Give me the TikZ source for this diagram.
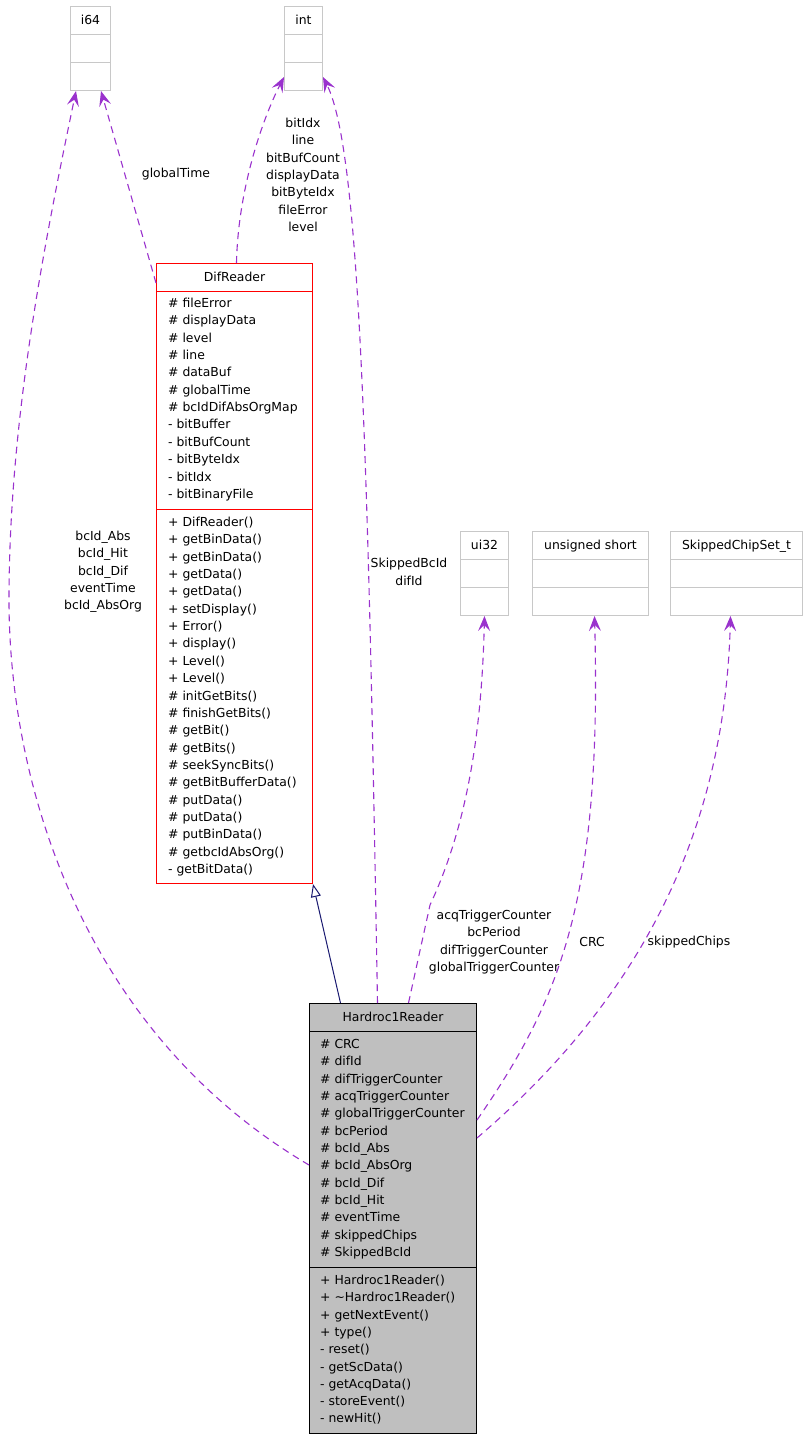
\documentclass[tikz,border=0pt]{standalone}
\usepackage{fontspec}
\setmainfont{DejaVu Sans}
\usepackage{tikz}
\usetikzlibrary{arrows.meta,calc}
\definecolor{usesedge}{HTML}{9A32CD}
\definecolor{inheritedge}{HTML}{191970}
\definecolor{typeframe}{HTML}{C8C8C8}
\definecolor{classfill}{HTML}{BFBFBF}

\tikzset{
  typebox/.style={draw=typeframe, line width=1pt, inner sep=0pt, anchor=north west},
  typeline/.style={draw=typeframe, line width=1pt},
  basebox/.style={draw=red, line width=1pt, inner sep=0pt, anchor=north west},
  mainbox/.style={draw=black, fill=classfill, line width=1pt, inner sep=0pt, anchor=north west},
  title/.style={anchor=base, inner sep=0pt},
  member/.style={anchor=base west, inner sep=0pt},
  uses/.style={draw=usesedge, line width=1.1pt, dash pattern=on 7pt off 5pt,
    -{Stealth[length=15pt,width=12pt,inset=6pt,fill=usesedge]}},
  inherits/.style={draw=inheritedge, line width=1pt,
    -{Triangle[open,length=13pt,width=10pt,fill=white]}},
  edgelabel/.style={align=center, inner sep=0pt}
}

\begin{document}
\begin{tikzpicture}[x=1pt,y=-1pt,font=\fontsize{12.4}{17.35}\selectfont]
\useasboundingbox (0,0) rectangle (807,1440);

% plain types
\node[typebox, minimum width=40, minimum height=84] (i64) at (70,6) {};
\node[typebox, minimum width=38, minimum height=84] (int) at (284,6) {};
\node[typebox, minimum width=48, minimum height=84] (ui32) at (460,531) {};
\node[typebox, minimum width=116, minimum height=84] (ushort) at (532,531) {};
\node[typebox, minimum width=132, minimum height=84] (skipset) at (670,531) {};
\foreach \b in {i64,int,ui32,ushort,skipset} {
  \draw[typeline] ([yshift=-28pt]\b.north west) -- ([yshift=-28pt]\b.north east);
  \draw[typeline] ([yshift=-56pt]\b.north west) -- ([yshift=-56pt]\b.north east);
}
\node[title] (i64-t) at ([yshift=-18.5pt]i64.north) {i64};
\node[title] (int-t) at ([yshift=-18.5pt]int.north) {int};
\node[title] (ui32-t) at ([yshift=-18.5pt]ui32.north) {ui32};
\node[title] (ushort-t) at ([yshift=-18.5pt]ushort.north) {unsigned short};
\node[title] (skipset-t) at ([yshift=-18.5pt]skipset.north) {SkippedChipSet\_t};

% DifReader
\node[basebox, minimum width=156, minimum height=620] (difreader) at (156,263) {};
\draw[red, line width=1pt] ([yshift=-28pt]difreader.north west) -- ([yshift=-28pt]difreader.north east);
\draw[red, line width=1pt] ([yshift=-246pt]difreader.north west) -- ([yshift=-246pt]difreader.north east);
\node[title] (difreader-t) at ([yshift=-18pt]difreader.north) {DifReader};
\foreach \m [count=\i from 0] in {\# fileError,\# displayData,\# level,\# line,\# dataBuf,
  \# globalTime,\# bcIdDifAbsOrgMap,- bitBuffer,- bitBufCount,- bitByteIdx,- bitIdx,- bitBinaryFile}
  \node[member] (dr-a\i) at ($(difreader.north west)+(12,44.5+17.35*\i)$) {\m};
\foreach \m [count=\i from 0] in {+ DifReader(),+ getBinData(),+ getBinData(),+ getData(),+ getData(),
  + setDisplay(),+ Error(),+ display(),+ Level(),+ Level(),\# initGetBits(),\# finishGetBits(),
  \# getBit(),\# getBits(),\# seekSyncBits(),\# getBitBufferData(),\# putData(),\# putData(),
  \# putBinData(),\# getbcIdAbsOrg(),- getBitData()}
  \node[member] (dr-m\i) at ($(difreader.north west)+(12,263.5+17.35*\i)$) {\m};

% Hardroc1Reader
\node[mainbox, minimum width=167, minimum height=430] (hardroc) at (309,1003) {};
\draw[line width=1pt] ([yshift=-28pt]hardroc.north west) -- ([yshift=-28pt]hardroc.north east);
\draw[line width=1pt] ([yshift=-264pt]hardroc.north west) -- ([yshift=-264pt]hardroc.north east);
\node[title] (hardroc-t) at ([yshift=-18.5pt]hardroc.north) {Hardroc1Reader};
\foreach \m [count=\i from 0] in {\# CRC,\# difId,\# difTriggerCounter,\# acqTriggerCounter,
  \# globalTriggerCounter,\# bcPeriod,\# bcId\_Abs,\# bcId\_AbsOrg,\# bcId\_Dif,\# bcId\_Hit,
  \# eventTime,\# skippedChips,\# SkippedBcId}
  \node[member] (hr-a\i) at ($(hardroc.north west)+(11,45.5+17.33*\i)$) {\m};
\foreach \m [count=\i from 0] in {+ Hardroc1Reader(),+ \textasciitilde Hardroc1Reader(),
  + getNextEvent(),+ type(),- reset(),- getScData(),- getAcqData(),- storeEvent(),- newHit()}
  \node[member] (hr-m\i) at ($(hardroc.north west)+(11,281.5+17.3*\i)$) {\m};

% connectors
\draw[inherits] ([xshift=-52.5pt]hardroc.north) -- (difreader.south east);
\draw[uses] ([yshift=-162pt]hardroc.north west) .. controls (80,1030) and (9,780) .. (9,600)
  .. controls (9,420) and (45,240) .. ([xshift=6pt]i64.south west);
\draw[uses] ([yshift=-20pt]difreader.north west) -- ([xshift=31pt]i64.south west);
\draw[uses] ([xshift=2pt]difreader.north) .. controls (238,190) and (262,120) .. ([yshift=14pt]int.south west);
\draw[uses] ([xshift=-15.5pt]hardroc.north) .. controls (368,450) and (360,150) .. ([yshift=14pt]int.south east);
\draw[uses] ([xshift=15.5pt]hardroc.north) -- (430,905) .. controls (470,820) and (482,720) .. (ui32.south);
\draw[uses] ([yshift=-117pt]hardroc.north east) .. controls (560,1000) and (602,900) .. ([xshift=4pt]ushort.south);
\draw[uses] ([yshift=-135pt]hardroc.north east) .. controls (650,990) and (725,820) .. ([xshift=-6pt]skipset.south);

% labels
\node[edgelabel] (l-gt) at (176,174) {globalTime};
\node[edgelabel] (l-int) at (303,175) {bitIdx\\line\\bitBufCount\\displayData\\bitByteIdx\\fileError\\level};
\node[edgelabel] (l-i64) at (103,572) {bcId\_Abs\\bcId\_Hit\\bcId\_Dif\\eventTime\\bcId\_AbsOrg};
\node[edgelabel] (l-skb) at (409,572) {SkippedBcId\\difId};
\node[edgelabel] (l-ui32) at (494,942) {acqTriggerCounter\\bcPeriod\\difTriggerCounter\\globalTriggerCounter};
\node[edgelabel] (l-crc) at (592,942) {CRC};
\node[edgelabel] (l-skc) at (689,942) {skippedChips};
\end{tikzpicture}
\end{document}
